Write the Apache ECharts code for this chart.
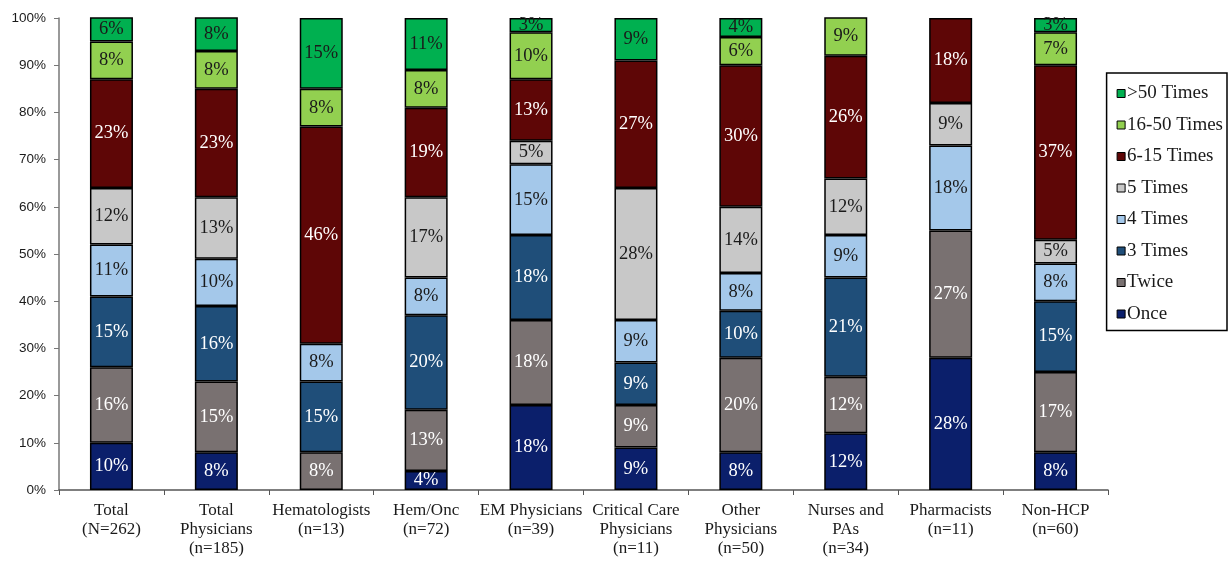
<!DOCTYPE html>
<html>
<head>
<meta charset="utf-8">
<script src="https://cdn.jsdelivr.net/npm/echarts@6/dist/echarts.min.js"></script>
<style>
  html, body { margin: 0; padding: 0; background: #ffffff; }
  #chart { width: 1228px; height: 561px; }
</style>
</head>
<body>
<div id="chart"></div>
<script>
// Respondent groups along the x axis
const categories = [
  'Total\n(N=262)',
  'Total\nPhysicians\n(n=185)',
  'Hematologists\n(n=13)',
  'Hem/Onc\n(n=72)',
  'EM Physicians\n(n=39)',
  'Critical Care\nPhysicians\n(n=11)',
  'Other\nPhysicians\n(n=50)',
  'Nurses and\nPAs\n(n=34)',
  'Pharmacists\n(n=11)',
  'Non-HCP\n(n=60)'
];

// Share of respondents (%) per frequency band, bottom to top of each bar
const once      = [10,  8,  0,  4, 18,  9,  8, 12, 28,  8];
const twice     = [16, 15,  8, 13, 18,  9, 20, 12, 27, 17];
const times3    = [15, 16, 15, 20, 18,  9, 10, 21,  0, 15];
const times4    = [11, 10,  8,  8, 15,  9,  8,  9, 18,  8];
const times5    = [12, 13,  0, 17,  5, 28, 14, 12,  9,  5];
const times6_15 = [23, 23, 46, 19, 13, 27, 30, 26, 18, 37];
const times16_50= [ 8,  8,  8,  8, 10,  0,  6,  9,  0,  7];
const times50   = [ 6,  8, 15, 11,  3,  9,  4,  0,  0,  3];

const yTicks = [0, 10, 20, 30, 40, 50, 60, 70, 80, 90, 100];

const seriesDefs = [
  { name: 'Once',        data: once,       color: '#0b1f6b', text: '#ffffff' },
  { name: 'Twice',       data: twice,      color: '#797171', text: '#ffffff' },
  { name: '3 Times',     data: times3,     color: '#1f4e79', text: '#ffffff' },
  { name: '4 Times',     data: times4,     color: '#a4c8ea', text: '#1a1a1a' },
  { name: '5 Times',     data: times5,     color: '#c8c8c8', text: '#1a1a1a' },
  { name: '6-15 Times',  data: times6_15,  color: '#5e0606', text: '#ffffff' },
  { name: '16-50 Times', data: times16_50, color: '#92d050', text: '#1a1a1a' },
  { name: '>50 Times',   data: times50,    color: '#00b050', text: '#1a1a1a' }
];

const serif = '"Liberation Serif", "DejaVu Serif", serif';
const sans = '"Liberation Sans", Arial, sans-serif';

const series = seriesDefs.map(s => ({
  name: s.name,
  type: 'bar',
  stack: 'share',
  barWidth: 43,
  data: s.data.map(v => (v === 0 ? null : v)),
  itemStyle: { color: s.color, borderColor: '#000000', borderWidth: 1.5 },
  label: {
    show: true,
    position: 'inside',
    formatter: p => (p.value == null ? '' : p.value + '%'),
    color: s.text,
    fontFamily: serif,
    fontSize: 18.5
  }
}));

const chart = echarts.init(document.getElementById('chart'));
chart.setOption({
  animation: false,
  backgroundColor: '#ffffff',
  grid: { left: 59, right: 120, top: 18, bottom: 71 },
  legend: {
    orient: 'vertical',
    right: 1,
    top: 73,
    data: seriesDefs.map(s => s.name).reverse(),
    itemWidth: 8,
    itemHeight: 8,
    itemGap: 12.5,
    padding: [11, 4, 7, 10],
    borderColor: '#000000',
    borderWidth: 1.5,
    itemStyle: { borderColor: '#000000', borderWidth: 1 },
    textStyle: { fontFamily: serif, fontSize: 19, color: '#1a1a1a', padding: [0, 0, 0, -3] },
    icon: 'rect'
  },
  xAxis: {
    type: 'category',
    data: categories,
    axisLine: { lineStyle: { color: '#555555', width: 1.5 } },
    axisTick: { show: true, length: 5, lineStyle: { color: '#555555' } },
    axisLabel: {
      interval: 0,
      fontFamily: serif,
      fontSize: 17,
      color: '#1a1a1a',
      lineHeight: 19,
      margin: 11
    }
  },
  yAxis: {
    type: 'value',
    min: 0,
    max: 100,
    interval: 10,
    splitLine: { show: false },
    axisLine: { show: true, lineStyle: { color: '#777777', width: 1.5 } },
    axisTick: { show: true, length: 5, lineStyle: { color: '#777777' } },
    axisLabel: {
      fontFamily: sans,
      fontSize: 13.5,
      color: '#1a1a1a',
      margin: 13,
      formatter: v => (yTicks.includes(v) ? v + '%' : '')
    }
  },
  series: series
});
</script>
</body>
</html>
